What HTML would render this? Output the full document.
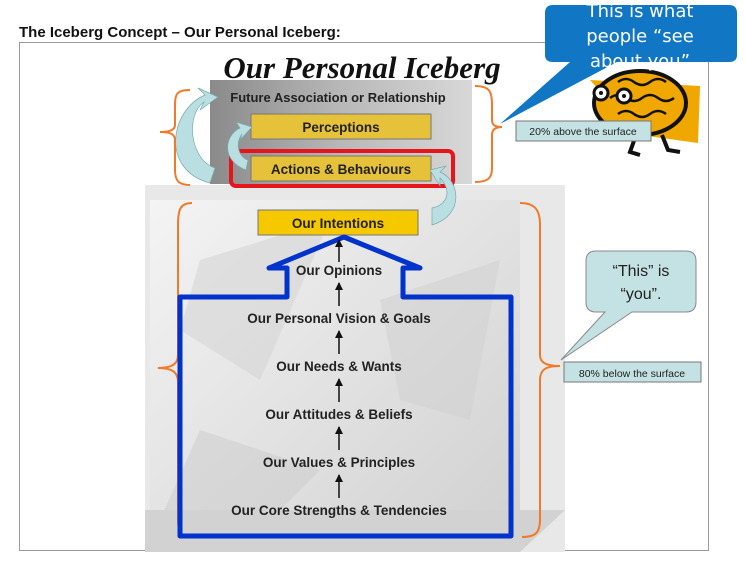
<!DOCTYPE html>
<html><head><meta charset="utf-8"><style>
html,body{margin:0;padding:0;background:#fff;width:745px;height:575px;overflow:hidden}
svg{display:block}
</style></head><body>
<svg width="745" height="575" viewBox="0 0 745 575" xmlns="http://www.w3.org/2000/svg" font-family="Liberation Sans, sans-serif">
<defs>
<linearGradient id="ice" x1="0" y1="0" x2="1" y2="1">
<stop offset="0" stop-color="#f4f4f4"/><stop offset="0.5" stop-color="#e2e2e2"/><stop offset="1" stop-color="#d0d0d0"/></linearGradient>
<linearGradient id="top" x1="0" y1="0" x2="1" y2="0">
<stop offset="0" stop-color="#8a8a8a"/><stop offset="0.5" stop-color="#b8b8b8"/><stop offset="1" stop-color="#d8d8d8"/></linearGradient>
<marker id="ah" markerUnits="userSpaceOnUse" markerWidth="8" markerHeight="8" refX="7" refY="4" orient="auto"><path d="M0,0 L8,4 L0,8z" fill="#111"/></marker>
</defs>
<text x="19" y="37" font-size="15" font-weight="bold" fill="#111">The Iceberg Concept – Our Personal Iceberg:</text>
<rect x="19.5" y="42.5" width="689" height="508" fill="#fff" stroke="#999"/>
<rect x="145" y="185" width="420" height="367" fill="#e8e8e8"/>
<polygon points="150,200 520,200 520,550 150,550" fill="url(#ice)"/>
<polygon points="200,260 330,220 260,380 180,330" fill="#d6d6d6" opacity="0.6"/>
<polygon points="380,300 500,260 470,420 400,400" fill="#cfcfcf" opacity="0.5"/>
<polygon points="200,430 320,470 250,540 160,520" fill="#cccccc" opacity="0.5"/>
<polygon points="145,510 565,510 520,552 145,552" fill="#d2d2d2"/>
<rect x="210" y="80" width="262" height="104" fill="url(#top)"/>
<text x="362" y="78" style="font-family:'Liberation Serif',serif" font-style="italic" font-weight="bold" font-size="31" text-anchor="middle" fill="#111">Our Personal Iceberg</text>
<text x="338" y="102" font-size="13" font-weight="bold" fill="#222" text-anchor="middle">Future Association or Relationship</text>
<rect x="251" y="114" width="180" height="25" fill="#e6c23a" stroke="#777"/>
<text x="341" y="132" font-size="13.5" font-weight="bold" fill="#222" text-anchor="middle">Perceptions</text>
<rect x="231" y="151" width="222" height="35" rx="5" fill="none" stroke="#e8141c" stroke-width="4"/>
<rect x="251" y="156" width="180" height="25" fill="#e6c23a" stroke="#777"/>
<text x="341" y="174" font-size="13.5" font-weight="bold" fill="#222" text-anchor="middle">Actions &amp; Behaviours</text>
<path d="M210,183 C160,170 170,110 205,95 L198,88 L218,97 L200,110 L204,102 C185,115 190,160 215,168 Z" fill="#b9dfe3" stroke="#7aa" stroke-width="0.7"/>
<path d="M246,170 C220,160 225,135 240,128 L236,122 L252,127 L240,140 L242,134 C234,145 240,158 248,160 Z" fill="#b9dfe3" stroke="#7aa" stroke-width="0.7"/>
<path d="M432,225 C465,215 460,180 440,172 L446,166 L430,170 L440,186 L440,178 C452,190 448,205 432,208 Z" fill="#b9dfe3" stroke="#7aa" stroke-width="0.7"/>
<rect x="258" y="210" width="160" height="25" fill="#f6c800" stroke="#777"/>
<text x="338" y="228" font-size="13.5" font-weight="bold" fill="#222" text-anchor="middle">Our Intentions</text>
<path d="M190,90 C175,90 175,95 175,110 L175,125 C175,130 170,132 160,132 C170,132 175,134 175,140 L175,170 C175,182 180,185 190,185" fill="none" stroke="#f07a2a" stroke-width="2"/>
<path d="M475,86 C490,86 492,92 492,105 L492,120 C492,125 495,127 502,127 C495,127 492,130 492,135 L492,168 C492,178 488,182 475,182" fill="none" stroke="#f07a2a" stroke-width="2"/>
<path d="M192,203 C180,203 178,210 178,225 L178,355 C178,364 172,368 158,368 C172,368 178,372 178,382 L178,520 C178,533 182,537 192,537" fill="none" stroke="#f07a2a" stroke-width="2"/>
<path d="M520,203 C535,203 540,210 540,225 L540,355 C540,362 545,366 560,366 C545,366 540,370 540,380 L540,520 C540,533 535,537 522,537" fill="none" stroke="#f07a2a" stroke-width="2"/>
<path d="M287,297 L180,297 L180,536 L511,536 L511,297 L403,297 L403,268 L420,268 L344,237 L269,268 L287,268 Z" fill="none" stroke="#0033cc" stroke-width="5" stroke-linejoin="round"/>
<g font-size="13.5" font-weight="bold" fill="#222" text-anchor="middle">
<text x="339" y="275">Our Opinions</text>
<text x="339" y="323">Our Personal Vision &amp; Goals</text>
<text x="339" y="371">Our Needs &amp; Wants</text>
<text x="339" y="419">Our Attitudes &amp; Beliefs</text>
<text x="339" y="467">Our Values &amp; Principles</text>
<text x="339" y="515">Our Core Strengths &amp; Tendencies</text>
</g>
<g stroke="#111" stroke-width="1.5" marker-end="url(#ah)">
<line x1="339" y1="262" x2="339" y2="240"/>
<line x1="339" y1="306" x2="339" y2="283"/>
<line x1="339" y1="354" x2="339" y2="331"/>
<line x1="339" y1="402" x2="339" y2="379"/>
<line x1="339" y1="450" x2="339" y2="427"/>
<line x1="339" y1="498" x2="339" y2="475"/>
</g>
<polygon points="590,80 700,86 698,143 640,135" fill="#f0a800"/>
<ellipse cx="640" cy="103" rx="46" ry="32" fill="#f0a800" stroke="#111" stroke-width="4"/>
<path d="M618,82 q8,-6 16,0 t16,0 t16,0 M610,98 q8,-6 16,0 t16,0 t16,0 t16,0 M618,114 q8,-6 16,0 t16,0 t16,0" fill="none" stroke="#111" stroke-width="2.5"/>
<circle cx="601" cy="93" r="7" fill="#fff" stroke="#111" stroke-width="3"/>
<circle cx="624" cy="96" r="7" fill="#fff" stroke="#111" stroke-width="3"/>
<circle cx="601" cy="93" r="2" fill="#111"/><circle cx="624" cy="96" r="2" fill="#111"/>
<path d="M635,138 L630,152 L640,155 M662,135 L668,150 L680,152" fill="none" stroke="#111" stroke-width="4"/>
<rect x="516" y="121" width="135" height="20" fill="#c4e2e4" stroke="#777"/>
<text x="583" y="135" font-size="10.5" text-anchor="middle" fill="#222">20% above the surface</text>
<rect x="564" y="362" width="137" height="20" fill="#c4e2e4" stroke="#777"/>
<text x="632" y="377" font-size="10.5" text-anchor="middle" fill="#222">80% below the surface</text>
<path d="M596,251 L686,251 Q696,251 696,261 L696,302 Q696,312 686,312 L632,312 L561,360 L605,312 L596,312 Q586,312 586,302 L586,261 Q586,251 596,251 Z" fill="#c4e2e4" stroke="#888"/>
<text x="641" y="276" font-size="16" text-anchor="middle" fill="#222">“This” is</text>
<text x="641" y="299" font-size="16" text-anchor="middle" fill="#222">“you”.</text>
<path d="M553,5 L729,5 Q737,5 737,13 L737,55 Q737,62 729,62 L617,62 L500,124 L570,62 L553,62 Q545,62 545,55 L545,13 Q545,5 553,5 Z" fill="#1177c4"/>
<g style="font-family:'DejaVu Sans',sans-serif" font-size="18" text-anchor="middle" fill="#fff">
<text x="640" y="17">This is what</text>
<text x="640" y="42">people “see</text>
<text x="640" y="67">about you”</text>
</g>
</svg>
</body></html>
